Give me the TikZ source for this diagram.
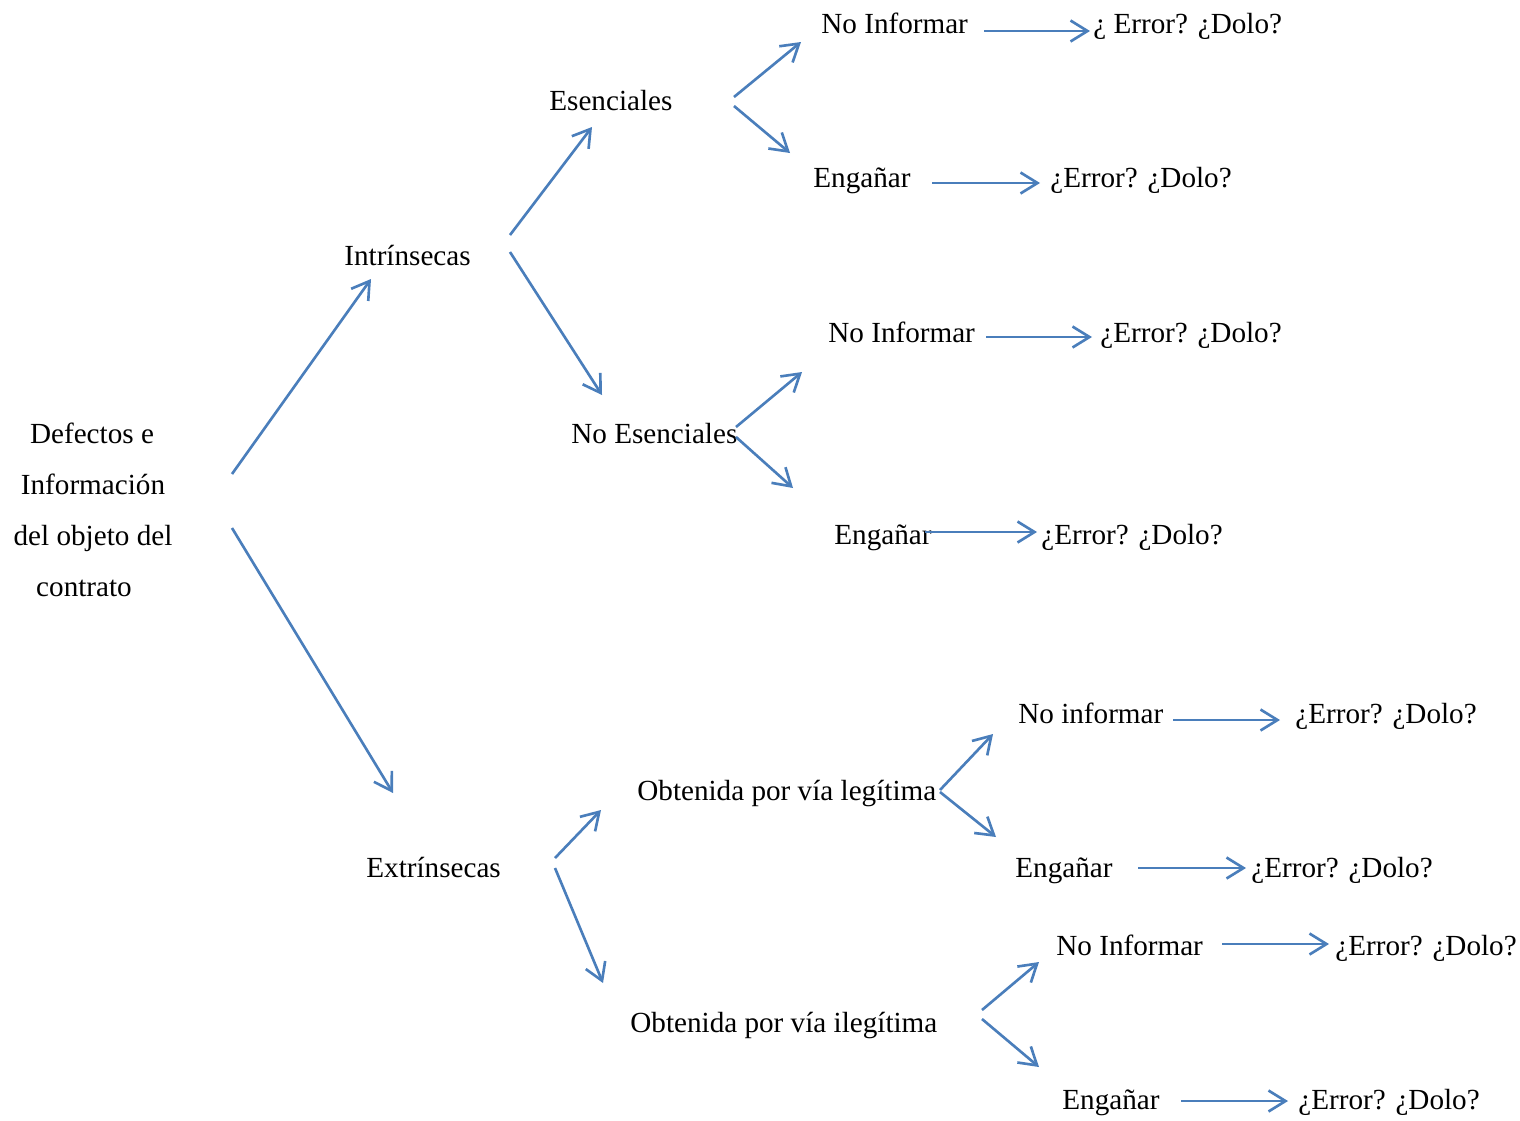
\documentclass[tikz,border=0pt]{standalone}
\usepackage{fontspec}
\setmainfont{Liberation Serif}
\usetikzlibrary{arrows.meta}
\definecolor{arrowblue}{RGB}{74,126,187}
\tikzset{
  lbl/.style={anchor=base west, inner sep=0pt, font=\fontsize{16.6}{20}\selectfont},
  conn/.style={draw=arrowblue, line width=1.5pt,
    -{Straight Barb[length=0.34cm, width=0.42cm, line width=1.5pt]}},
}
\begin{document}
\begin{tikzpicture}[x=0.02cm, y=-0.02cm]
\useasboundingbox (0,0) rectangle (1520,1120);
% text nodes
\node[inner sep=0pt, align=center, font=\fontsize{16.6}{28.9}\selectfont] (root) at (93,510)
  {Defectos e\hspace*{0.04cm}\\Información\\del objeto del\\contrato\hspace*{0.36cm}};
\node[lbl] (intr) at (344,265) {Intrínsecas};
\node[lbl] (extr) at (366,877) {Extrínsecas};
\node[lbl] (esen) at (549,110) {Esenciales};
\node[lbl] (noesen) at (571,443) {No Esenciales};
\node[lbl] (leg) at (637,800) {Obtenida por vía legítima};
\node[lbl] (ileg) at (630,1032) {Obtenida por vía ilegítima};
\node[lbl] (ni1) at (821,33) {No Informar};
\node[lbl] (er1) at (1093,33) {¿ Error? ¿Dolo?};
\node[lbl] (en1) at (813,187) {Engañar};
\node[lbl] (er2) at (1050,187) {¿Error? ¿Dolo?};
\node[lbl] (ni2) at (828,342) {No Informar};
\node[lbl] (er3) at (1100,342) {¿Error? ¿Dolo?};
\node[lbl] (en2) at (834,544) {Engañar};
\node[lbl] (er4) at (1041,544) {¿Error? ¿Dolo?};
\node[lbl] (ni3) at (1018,723) {No informar};
\node[lbl] (er5) at (1295,723) {¿Error? ¿Dolo?};
\node[lbl] (en3) at (1015,877) {Engañar};
\node[lbl] (er6) at (1251,877) {¿Error? ¿Dolo?};
\node[lbl] (ni4) at (1056,955) {No Informar};
\node[lbl] (er7) at (1335,955) {¿Error? ¿Dolo?};
\node[lbl] (en4) at (1062,1109) {Engañar};
\node[lbl] (er8) at (1298,1109) {¿Error? ¿Dolo?};
% connector end points
\coordinate (a1s) at (232,474);  \coordinate (a1e) at (371,279);
\coordinate (a2s) at (232,528);  \coordinate (a2e) at (393,793);
\coordinate (a3s) at (510,235);  \coordinate (a3e) at (592,127);
\coordinate (a4s) at (510,252);  \coordinate (a4e) at (602,395);
\coordinate (a5s) at (734,97);   \coordinate (a5e) at (801,42);
\coordinate (a6s) at (734,106);  \coordinate (a6e) at (790,153);
\coordinate (a7s) at (984,31);   \coordinate (a7e) at (1090,31);
\coordinate (a8s) at (932,183);  \coordinate (a8e) at (1040,183);
\coordinate (a9s) at (736,427);  \coordinate (a9e) at (802,372);
\coordinate (a10s) at (736,437); \coordinate (a10e) at (793,488);
\coordinate (a11s) at (986,337); \coordinate (a11e) at (1092,337);
\coordinate (a12s) at (925,532); \coordinate (a12e) at (1037,532);
\coordinate (a13s) at (555,858); \coordinate (a13e) at (601,810);
\coordinate (a14s) at (555,868); \coordinate (a14e) at (603,983);
\coordinate (a15s) at (940,790); \coordinate (a15e) at (993,734);
\coordinate (a16s) at (940,792); \coordinate (a16e) at (996,837);
\coordinate (a17s) at (1173,720); \coordinate (a17e) at (1280,720);
\coordinate (a18s) at (1138,868); \coordinate (a18e) at (1246,868);
\coordinate (a19s) at (982,1010); \coordinate (a19e) at (1039,962);
\coordinate (a20s) at (982,1019); \coordinate (a20e) at (1039,1067);
\coordinate (a21s) at (1222,944); \coordinate (a21e) at (1329,944);
\coordinate (a22s) at (1181,1101); \coordinate (a22e) at (1288,1101);
\foreach \i in {1,...,22} {\draw[conn] (a\i s) -- (a\i e);}
\end{tikzpicture}
\end{document}
